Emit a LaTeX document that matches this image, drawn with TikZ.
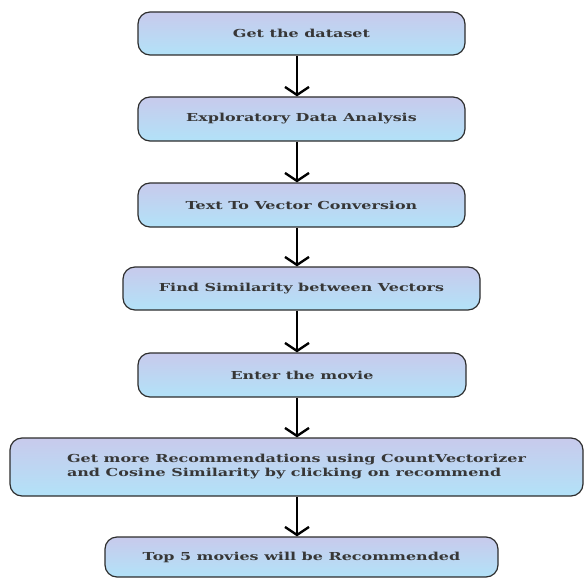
\documentclass[tikz,border=0pt]{standalone}
\usepackage{fontspec}
\setmainfont{DejaVu Serif}[FakeStretch=1.45]
\usetikzlibrary{arrows.meta}
\definecolor{boxtop}{RGB}{200,202,236}
\definecolor{boxbot}{RGB}{178,226,248}
\definecolor{txtc}{RGB}{55,55,55}
\definecolor{edgec}{RGB}{45,45,45}
\begin{document}
\begin{tikzpicture}[x=1pt,y=1pt,
  stepbox/.style={draw=edgec, line width=1.2pt, rounded corners=12pt,
    top color=boxtop, bottom color=boxbot, text=txtc,
    font=\fontsize{11}{14}\selectfont\bfseries, align=center, inner sep=0pt},
  flow/.style={line width=2.4pt, -{Straight Barb[length=8pt,width=24pt]}}]
\useasboundingbox (0,0) rectangle (584,-578);
\coordinate (ax) at (297,0);
\node[stepbox, minimum width=327pt, minimum height=43pt] (b1) at (301.5,-33.5) {Get the dataset};
\node[stepbox, minimum width=327pt, minimum height=44pt] (b2) at (301.5,-119) {Exploratory Data Analysis};
\node[stepbox, minimum width=327pt, minimum height=44pt] (b3) at (301.5,-205) {Text To Vector Conversion};
\node[stepbox, minimum width=357pt, minimum height=43pt] (b4) at (301.5,-288.5) {Find Similarity between Vectors};
\node[stepbox, minimum width=328pt, minimum height=44pt] (b5) at (302,-375) {Enter the movie};
\node[stepbox, minimum width=573pt, minimum height=58pt, align=left] (b6) at (296.5,-467) {Get more Recommendations using CountVectorizer\\and Cosine Similarity by clicking on recommend};
\node[stepbox, minimum width=393pt, minimum height=40pt] (b7) at (301.5,-557) {Top 5 movies will be Recommended};
\draw[flow] (b1.south -| ax) -- (b2.north -| ax);
\draw[flow] (b2.south -| ax) -- (b3.north -| ax);
\draw[flow] (b3.south -| ax) -- (b4.north -| ax);
\draw[flow] (b4.south -| ax) -- (b5.north -| ax);
\draw[flow] (b5.south -| ax) -- (b6.north -| ax);
\draw[flow] (b6.south -| ax) -- (b7.north -| ax);
\end{tikzpicture}
\end{document}
